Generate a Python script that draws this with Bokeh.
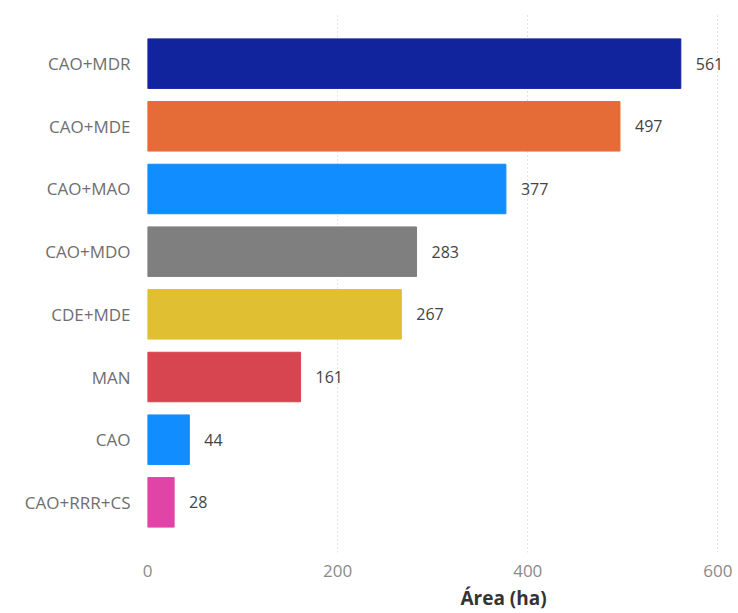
from bokeh.plotting import figure
from bokeh.models import ColumnDataSource, FactorRange, Range1d, Title, FixedTicker
from bokeh.core.properties import value
from bokeh.embed import file_html
from bokeh.resources import INLINE

categories = ["CAO+MDR", "CAO+MDE", "CAO+MAO", "CAO+MDO", "CDE+MDE", "MAN", "CAO", "CAO+RRR+CS"]
values = [561, 497, 377, 283, 267, 161, 44, 28]
colors = ["#12239E", "#E66C37", "#118DFF", "#7F7F7F", "#E0BF33", "#D64550", "#118DFF", "#E044A7"]
x_ticks = [0, 200, 400, 600]
x_title = "Área (ha)"

src = ColumnDataSource(dict(cat=categories, val=values, col=colors,
                            lab=[str(v) for v in values]))

p = figure(width=738, height=613, output_backend="svg", toolbar_location=None,
           y_range=FactorRange(factors=categories[::-1], range_padding=0.3,
                               range_padding_units="absolute"),
           x_range=Range1d(0, 608),
           min_border_left=147, min_border_right=13, min_border_top=13, min_border_bottom=5)

p.hbar(y="cat", right="val", left=0, height=0.79, color="col", source=src)
p.text(x="val", y="cat", text="lab", source=src, x_offset=15,
       text_align="left", text_baseline="middle", text_font_size="16px",
       text_color="#444444", text_font=value("Open Sans"))

p.outline_line_color = None
p.ygrid.grid_line_color = None
p.xgrid.grid_line_color = "#C8C8C8"
p.xgrid.grid_line_dash = "1 3"
p.xgrid.grid_line_width = 1
p.xaxis.ticker = FixedTicker(ticks=x_ticks)

for ax in (p.xaxis[0], p.yaxis[0]):
    ax.axis_line_color = None
    ax.major_tick_line_color = None
    ax.minor_tick_line_color = None
    ax.major_tick_out = 0
    ax.major_tick_in = 0
    ax.minor_tick_out = 0
    ax.major_label_text_font = "Open Sans"

p.xaxis.major_label_text_font_size = "17px"
p.xaxis.major_label_text_color = "#8A8A8A"
p.xaxis.major_label_standoff = 12
p.yaxis.major_label_text_font_size = "17px"
p.yaxis.major_label_text_color = "#6E6E6E"
p.yaxis.major_label_standoff = 17

p.add_layout(Title(text=x_title, align="left", offset=313, text_font="Open Sans",
                   text_font_size="19px", text_font_style="bold",
                   text_color="#333333", standoff=6), "below")

open("out.html", "w").write(file_html(p, INLINE))
